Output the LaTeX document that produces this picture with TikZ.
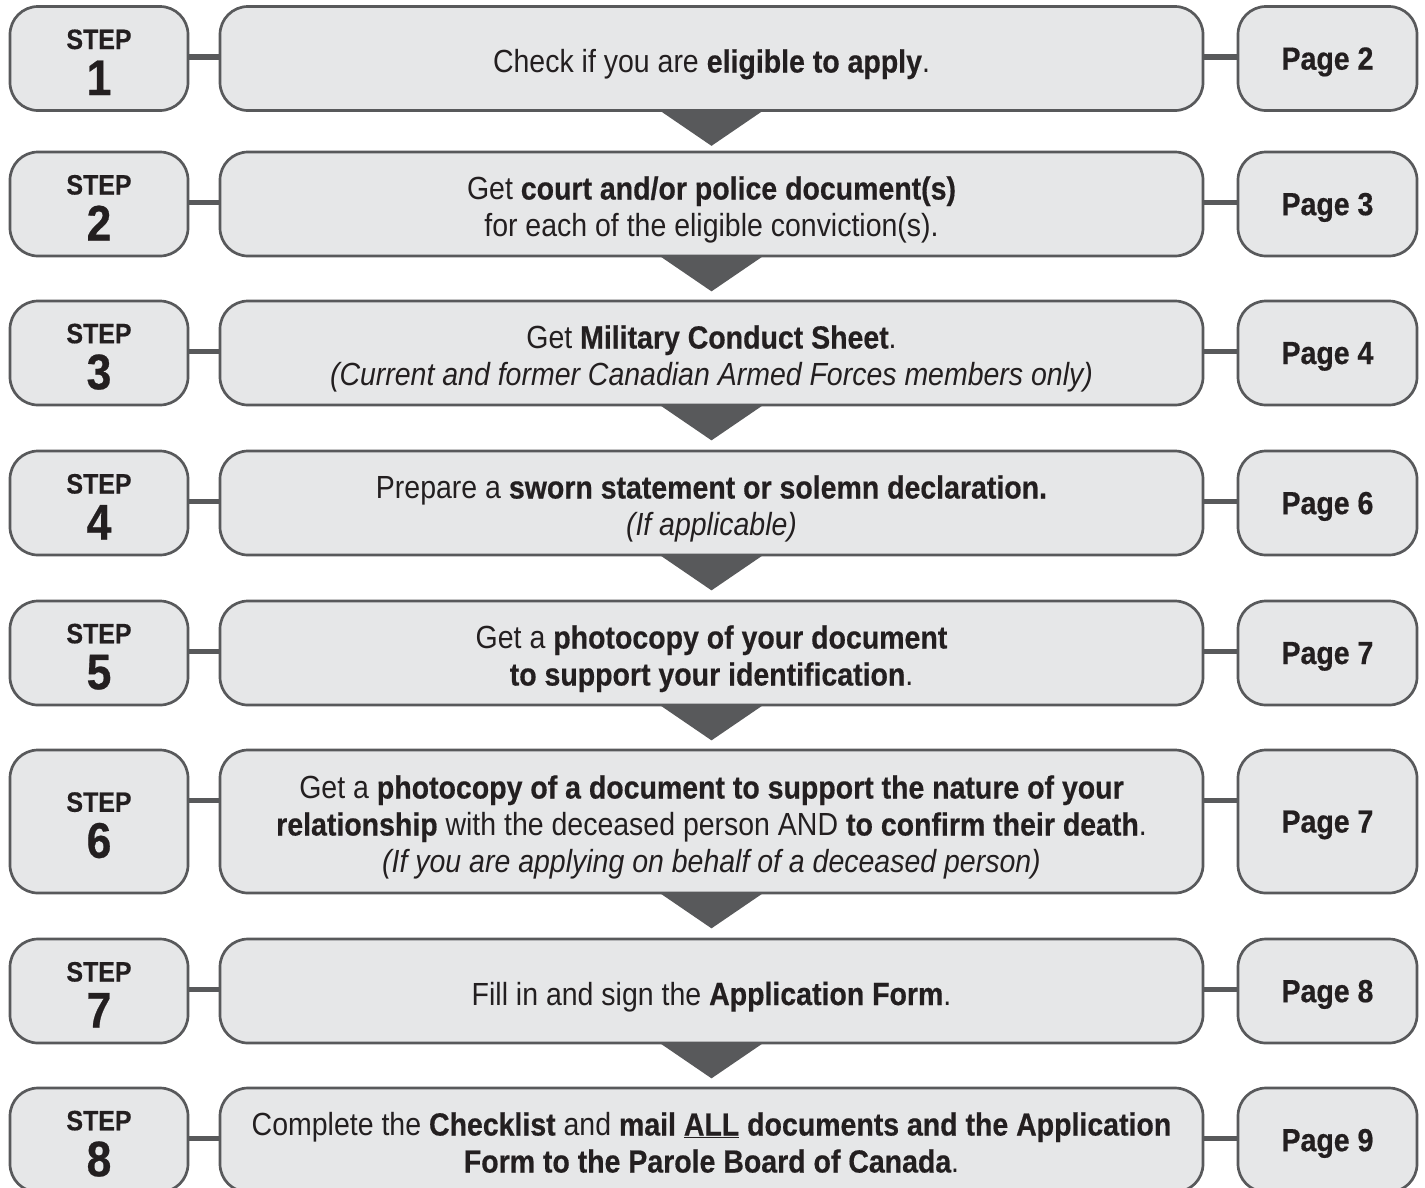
\documentclass[tikz,border=0pt]{standalone}
\usepackage{fontspec}
\setmainfont{Liberation Sans}[FakeStretch=0.89, BoldFeatures={FakeBold=0.5}]
\usetikzlibrary{calc}

\definecolor{boxfill}{HTML}{E6E7E8}
\definecolor{boxline}{HTML}{58595B}
\definecolor{textdark}{HTML}{231F20}

% step label: small STEP word over a large number
\newcommand{\stepnum}[1]{\rule{0pt}{27pt}STEP\\{\fontsize{50}{50}\selectfont #1}}
% strut opening the first line of a main box
\newcommand{\lead}{\rule{0pt}{36pt}}

\begin{document}
\begin{tikzpicture}[
    x=1pt, y=-1pt,
    box/.style={draw=boxline, fill=boxfill, line width=2.7pt,
        rounded corners=28pt, inner sep=0pt, text=textdark},
    stepbox/.style={box, minimum width=178pt, minimum height=104pt,
        align=center, font=\bfseries\fontsize{28}{46}\selectfont},
    mainbox/.style={box, minimum width=983pt, minimum height=104pt,
        align=center, font=\fontsize{32}{37}\selectfont,
        execute at end node={\rule[-8pt]{0pt}{8pt}}},
    pagebox/.style={box, minimum width=179pt, minimum height=104pt,
        text depth=0pt, font=\bfseries\fontsize{32}{32}\selectfont},
    link/.style={draw=boxline, line width=5.5pt},
    pointer/.style={fill=boxline}
    ]
    \clip (0,0) rectangle (1425,1187);
    % Step boxes
    \node[stepbox] (step1) at (99,58.5) {\stepnum{1}};
    \node[stepbox] (step2) at (99,204) {\stepnum{2}};
    \node[stepbox] (step3) at (99,353) {\stepnum{3}};
    \node[stepbox] (step4) at (99,503) {\stepnum{4}};
    \node[stepbox] (step5) at (99,653) {\stepnum{5}};
    \node[stepbox, minimum height=143pt] (step6) at (99,821.5) {\stepnum{6}};
    \node[stepbox] (step7) at (99,991) {\stepnum{7}};
    \node[stepbox] (step8) at (99,1140) {\stepnum{8}};
    % Main boxes
    \node[mainbox] (main1) at (711.5,58.5)
        {\lead Check if you are \textbf{eligible to apply}.};
    \node[mainbox] (main2) at (711.5,204)
        {\lead Get \textbf{court and/or police document(s)}\\
        for each of the eligible conviction(s).};
    \node[mainbox] (main3) at (711.5,353)
        {\lead Get \textbf{Military Conduct Sheet}.\\
        \textit{(Current and former Canadian Armed Forces members only)}};
    \node[mainbox] (main4) at (711.5,503)
        {\lead Prepare a \textbf{sworn statement or solemn declaration.}\\
        \textit{(If applicable)}};
    \node[mainbox] (main5) at (711.5,653)
        {\lead Get a \textbf{photocopy of your document}\\
        \textbf{to support your identification}.};
    \node[mainbox, minimum height=143pt] (main6) at (711.5,821.5)
        {\lead Get a \textbf{photocopy of a document to support the nature of your}\\
        \textbf{relationship} with the deceased person AND \textbf{to confirm their death}.\\
        \textit{(If you are applying on behalf of a deceased person)}};
    \node[mainbox] (main7) at (711.5,991)
        {\lead Fill in and sign the \textbf{Application Form}.};
    \node[mainbox] (main8) at (711.5,1140)
        {\lead Complete the \textbf{Checklist} and \textbf{mail \underline{ALL} documents and the Application}\\
        \textbf{Form to the Parole Board of Canada}.};
    % Page boxes
    \node[pagebox] (page1) at (1327.5,58.5) {Page 2};
    \node[pagebox] (page2) at (1327.5,204) {Page 3};
    \node[pagebox] (page3) at (1327.5,353) {Page 4};
    \node[pagebox] (page4) at (1327.5,503) {Page 6};
    \node[pagebox] (page5) at (1327.5,653) {Page 7};
    \node[pagebox, minimum height=143pt] (page6) at (1327.5,821.5) {Page 7};
    \node[pagebox] (page7) at (1327.5,991) {Page 8};
    \node[pagebox] (page8) at (1327.5,1140) {Page 9};
    % Links between the boxes of a row
    \foreach \i in {1,...,8} {
        \draw[link] ($(step\i.north east)+(0,52)$) -- ($(main\i.north west)+(0,52)$);
        \draw[link] ($(main\i.north east)+(0,52)$) -- ($(page\i.north west)+(0,52)$);
    }
    % Pointers down to the next step
    \foreach \i in {1,...,7} {
        \fill[pointer] ($(main\i.south)+(-52,-1.5)$) -- ($(main\i.south)+(52,-1.5)$)
            -- ($(main\i.south)+(0,34)$) -- cycle;
    }
\end{tikzpicture}
\end{document}
